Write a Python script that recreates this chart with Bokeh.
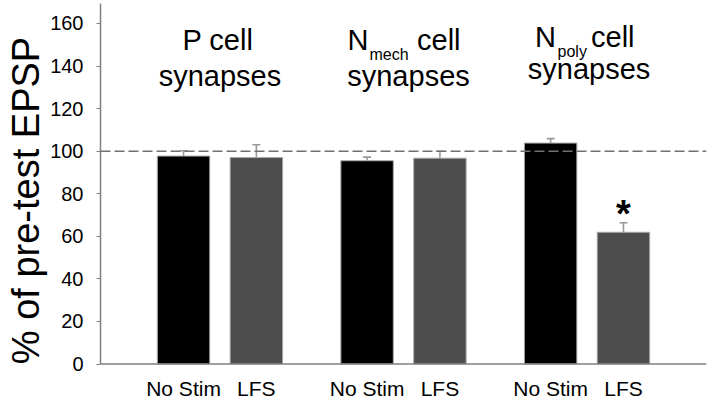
from bokeh.plotting import figure
from bokeh.models import (FactorRange, ColumnDataSource, Whisker, Span, TeeHead, Range1d,
                          FixedTicker)
from bokeh.core.properties import value
from bokeh.embed import file_html
from bokeh.resources import INLINE

# ---- data ----
groups = ["P", "Nmech", "Npoly"]
conditions = ["No Stim", "LFS"]
means = [97.7, 97.0, 95.5, 96.7, 103.8, 61.9]
errors = [2.5, 6.0, 1.7, 3.3, 2.1, 4.5]
significant = [False, False, False, False, False, True]
title_main = ["P", "N", "N"]
title_sub = ["", "mech", "poly"]
title_rest = ["cell", "cell", "cell"]
title_line2 = ["synapses", "synapses", "synapses"]
y_ticks = [0, 20, 40, 60, 80, 100, 120, 140, 160]
y_title = "% of pre-test EPSP"
reference_level = 100

FONT = "Liberation Sans"
factors = [(g, c) for g in groups for c in conditions]
colors = ["#000000" if c == "No Stim" else "#4d4d4d" for g, c in factors]

x_range = FactorRange(*factors, factor_padding=0.0, group_padding=0.52,
                      range_padding=0.64, range_padding_units="absolute")
p = figure(width=710, height=400, x_range=x_range, y_range=Range1d(-17.15, 170.8),
           output_backend="svg", toolbar_location=None,
           min_border_left=100, min_border_right=4, min_border_top=0, min_border_bottom=0)
p.outline_line_color = None
p.xgrid.grid_line_color = None
p.ygrid.grid_line_color = None
p.xaxis.visible = False

src = ColumnDataSource(dict(x=factors, top=means, color=colors,
                            upper=[m + e for m, e in zip(means, errors)],
                            lower=means, label=[c for g, c in factors],
                            base=[0] * len(factors)))
p.vbar(x="x", top="top", bottom=0, width=0.72, source=src, fill_color="color",
       line_color="#a8a8a8", line_width=1)

w = Whisker(base="x", upper="upper", lower="lower", source=src,
            line_color="#999999", line_width=1.6,
            upper_head=TeeHead(size=8, line_color="#999999", line_width=1.6),
            lower_head=None)
p.add_layout(w)

# baseline (x axis line) and reference dashed line
p.add_layout(Span(location=0, dimension="width", line_color="#808080", line_width=1.5))
p.add_layout(Span(location=reference_level, dimension="width", line_color="#707070",
                  line_width=1.6, line_dash="10 4"))

# category labels under the bars
p.text(x="x", y="base", text="label", source=src, text_font=value(FONT),
       text_font_size="21px", text_align="center", text_baseline="bottom",
       y_offset=36, text_color="black")

# significance asterisk
sx = [f for f, s in zip(factors, significant) if s]
sy = [m + e for m, e, s in zip(means, errors, significant) if s]
p.text(x=sx, y=sy, text=["*"] * len(sx), text_font=value(FONT), text_font_size="38px",
       text_font_style="bold", text_align="center", text_baseline="middle",
       y_offset=-9, text_color="black")

# group titles (positions/styles)
line1_y = [144.5, 144.5, 146.1]
line2_y = [128.0, 128.0, 131.1]
main_dx = [-2, -35, -31]
sub_dx = [0, -34, -29.5]
rest_dx = [0, 13.5, 4]
line2_dx = [0, 5, 2]
TS = "29px"
for i, g in enumerate(groups):
    if title_sub[i] == "":
        p.text(x=[g], y=[line1_y[i]], text=[title_main[i] + " " + title_rest[i]],
               text_font=value(FONT), text_font_size=TS, text_align="center",
               text_baseline="bottom", x_offset=main_dx[i], text_color="black")
    else:
        p.text(x=[g], y=[line1_y[i]], text=[title_main[i]], text_font=value(FONT),
               text_font_size=TS, text_align="right", text_baseline="bottom",
               x_offset=main_dx[i], text_color="black")
        p.text(x=[g], y=[line1_y[i]], text=[title_sub[i]], text_font=value(FONT),
               text_font_size="16px", text_align="left", text_baseline="bottom",
               x_offset=sub_dx[i], y_offset=7, text_color="black")
        p.text(x=[g], y=[line1_y[i]], text=[title_rest[i]], text_font=value(FONT),
               text_font_size=TS, text_align="left", text_baseline="bottom",
               x_offset=rest_dx[i], text_color="black")
    p.text(x=[g], y=[line2_y[i]], text=[title_line2[i]], text_font=value(FONT),
           text_font_size=TS, text_align="center", text_baseline="bottom",
           x_offset=line2_dx[i], text_color="black")

# y axis
p.yaxis.bounds = (0, 169.4)
p.yaxis.ticker = FixedTicker(ticks=y_ticks)
p.yaxis.axis_label = y_title
p.yaxis.axis_label_text_font = FONT
p.yaxis.axis_label_text_font_size = "38px"
p.yaxis.axis_label_text_font_style = "normal"
p.yaxis.axis_label_text_color = "black"
p.yaxis.axis_label_standoff = 0
p.yaxis.major_label_text_font = FONT
p.yaxis.major_label_text_font_size = "20px"
p.yaxis.major_label_text_color = "black"
p.yaxis.major_label_standoff = 13
p.yaxis.axis_line_color = "#808080"
p.yaxis.axis_line_width = 1.5
p.yaxis.major_tick_line_color = "#808080"
p.yaxis.major_tick_out = 4
p.yaxis.major_tick_in = 0
p.yaxis.minor_tick_line_color = None

open("out.html", "w").write(file_html(p, INLINE))
